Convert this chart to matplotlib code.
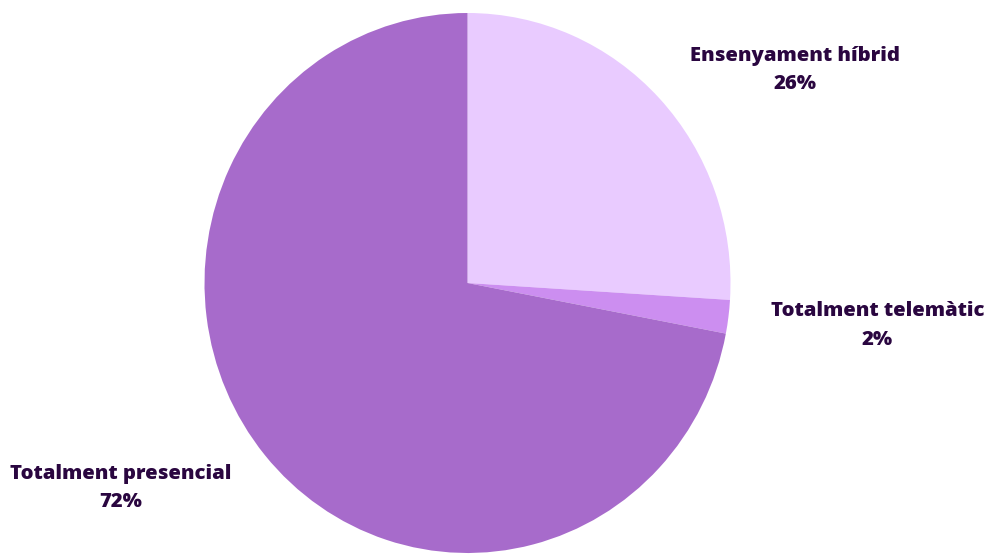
import matplotlib
matplotlib.use("Agg")
import matplotlib.pyplot as plt

# Data
categories = ["Ensenyament híbrid", "Totalment telemàtic", "Totalment presencial"]
shares = [26, 2, 72]
colours = ["#E9CBFF", "#CC8EF0", "#A76BCB"]

plt.rcParams['font.family'] = ['Open Sans', 'DejaVu Sans']

fig = plt.figure(figsize=(9.85, 5.55), dpi=100)
W, H = 985, 555
# pie box in pixels (slightly taller than wide, like the reference)
ax = fig.add_axes([204.5 / W, 2 / H, 526 / W, 540 / H])

ax.pie(shares, colors=colours, startangle=90, counterclock=False,
       radius=1, wedgeprops=dict(linewidth=0))
ax.set_aspect('auto')
ax.set_xlim(-1, 1)
ax.set_ylim(-1, 1)

# label centres in pixel coordinates (from top-left)
label_px = [(795.5, 70), (877.5, 325.5), (121, 488)]
for name, val, (px, py) in zip(categories, shares, label_px):
    fig.text(px / W, 1 - py / H, name + "\n" + str(val) + "%",
             ha='center', va='center', fontsize=14.6, fontweight=800,
             color='#2A0640', linespacing=1.58)

plt.savefig('out.png', dpi=100)
